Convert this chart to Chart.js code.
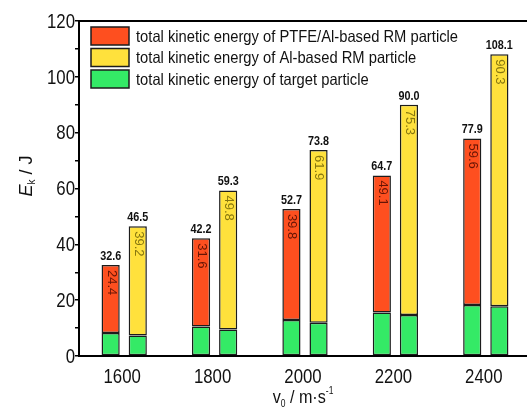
<!DOCTYPE html>
<html>
<head>
<meta charset="utf-8">
<script src="https://cdn.jsdelivr.net/npm/chart.js@4/dist/chart.umd.min.js"></script>
<style>
  html, body { margin: 0; padding: 0; background: #fff; overflow: hidden; }
  #wrap { width: 527px; height: 409px; overflow: hidden; }
</style>
</head>
<body>
<div id="wrap"><canvas id="energyChart" width="540" height="409"></canvas></div>
<script>
const categories = ['1600', '1800', '2000', '2200', '2400'];
const ptfeTarget = [8.2, 10.6, 12.9, 15.6, 18.3];
const ptfeParticle = [24.4, 31.6, 39.8, 49.1, 59.6];
const ptfeTotal = ['32.6', '42.2', '52.7', '64.7', '77.9'];
const alTarget = [7.3, 9.5, 11.9, 14.7, 17.8];
const alParticle = [39.2, 49.8, 61.9, 75.3, 90.3];
const alTotal = ['46.5', '59.3', '73.8', '90.0', '108.1'];
const legendLabels = [
    'total kinetic energy of PTFE/Al-based RM particle',
    'total kinetic energy of Al-based RM particle',
    'total kinetic energy of target particle'
];

const RED = '#fe4f1f';
const YELLOW = '#ffe13c';
const GREEN = '#34ea66';
const EDGE = '#1c1c1c';
const SANS = "'Liberation Sans', Arial, sans-serif";

const barStyle = {
    borderColor: EDGE,
    borderWidth: 1.5,
    borderSkipped: false,
    barPercentage: 0.67,
    categoryPercentage: 0.6
};

// the source figure uses a narrow face, so squeeze text sideways
function narrowText(ctx, text, x, y, font, align, squeeze, baseline) {
    ctx.save();
    ctx.translate(x, y);
    ctx.scale(squeeze, 1);
    ctx.font = font;
    ctx.textAlign = align;
    ctx.textBaseline = baseline || 'middle';
    ctx.fillText(text, 0, 0);
    ctx.restore();
}

const decorations = {
    id: 'decorations',
    afterDatasetsDraw(chart) {
        const ctx = chart.ctx;
        const area = chart.chartArea;
        ctx.save();

        // top frame line
        ctx.strokeStyle = '#000';
        ctx.lineWidth = 2;
        ctx.beginPath();
        ctx.moveTo(area.left - 1, area.top);
        ctx.lineTo(chart.width, area.top);
        ctx.stroke();

        ctx.fillStyle = '#111';
        // tick labels
        const ys = chart.scales.y;
        ys.ticks.forEach((t, i) => {
            if (t.value % 20 !== 0) return;
            narrowText(ctx, String(t.value), 75, ys.getPixelForTick(i) + 1, '21px ' + SANS, 'right', 0.8);
        });
        const xs = chart.scales.x;
        categories.forEach((c, i) => {
            narrowText(ctx, c, xs.getPixelForTick(i) - 2, 377, '21px ' + SANS, 'center', 0.8);
        });

        // segment values and totals
        const labelSets = [
            { index: 1, values: ptfeParticle, totals: ptfeTotal, color: '#661505' },
            { index: 3, values: alParticle, totals: alTotal, color: '#86760f' }
        ];
        labelSets.forEach(set => {
            const meta = chart.getDatasetMeta(set.index);
            meta.data.forEach((bar, i) => {
                ctx.save();
                ctx.translate(bar.x + 0.5, bar.y + 5);
                ctx.rotate(Math.PI / 2);
                ctx.font = '13px ' + SANS;
                ctx.fillStyle = set.color;
                ctx.textAlign = 'left';
                ctx.textBaseline = 'middle';
                ctx.fillText(set.values[i].toFixed(1), 0, 0);
                ctx.restore();

                ctx.fillStyle = '#111';
                narrowText(ctx, set.totals[i], bar.x, bar.y - 2, 'bold 13.5px ' + SANS, 'center', 0.8, 'bottom');
            });
        });

        // legend
        const colors = [RED, YELLOW, GREEN];
        ctx.font = '16.5px ' + SANS;
        const squeeze = 322 / ctx.measureText(legendLabels[0]).width;
        legendLabels.forEach((text, i) => {
            const y = 27 + i * 21.5;
            ctx.fillStyle = colors[i];
            ctx.fillRect(91, y, 38, 18);
            ctx.strokeStyle = EDGE;
            ctx.lineWidth = 1.5;
            ctx.strokeRect(91, y, 38, 18);
            ctx.fillStyle = '#111';
            narrowText(ctx, text, 136, y + 10, '16.5px ' + SANS, 'left', squeeze);
        });

        // y title: E_k / J
        ctx.save();
        ctx.translate(32, 176);
        ctx.rotate(-Math.PI / 2);
        ctx.fillStyle = '#111';
        ctx.textBaseline = 'alphabetic';
        ctx.textAlign = 'left';
        ctx.font = 'italic 18px ' + SANS;
        const eW = ctx.measureText('E').width;
        ctx.font = '10px ' + SANS;
        const kW = ctx.measureText('k').width;
        ctx.font = '18px ' + SANS;
        const restW = ctx.measureText(' / J').width;
        let x = -(eW + kW + restW) / 2;
        ctx.font = 'italic 18px ' + SANS;
        ctx.fillText('E', x, 0);
        x += eW;
        ctx.font = '10px ' + SANS;
        ctx.fillText('k', x, 3);
        x += kW;
        ctx.font = '18px ' + SANS;
        ctx.fillText(' / J', x, 0);
        ctx.restore();

        // x title: v0 / m·s-1
        const parts = [
            { t: 'v', f: '19px ', dy: 0 },
            { t: '0', f: '10px ', dy: 4 },
            { t: ' / m\u00b7s', f: '19px ', dy: 0 },
            { t: '-1', f: '10px ', dy: -9 }
        ];
        const sq = 0.85;
        let total = 0;
        parts.forEach(p => { ctx.font = p.f + SANS; p.w = ctx.measureText(p.t).width * sq; total += p.w; });
        let px = 303 - total / 2;
        parts.forEach(p => {
            narrowText(ctx, p.t, px, 403 + p.dy, p.f + SANS, 'left', sq, 'alphabetic');
            px += p.w;
        });

        ctx.restore();
    }
};

new Chart(document.getElementById('energyChart'), {
    type: 'bar',
    data: {
        labels: categories,
        datasets: [
            Object.assign({ data: ptfeTarget, backgroundColor: GREEN, stack: 'ptfe' }, barStyle),
            Object.assign({ data: ptfeParticle, backgroundColor: RED, stack: 'ptfe' }, barStyle),
            Object.assign({ data: alTarget, backgroundColor: GREEN, stack: 'al' }, barStyle),
            Object.assign({ data: alParticle, backgroundColor: YELLOW, stack: 'al' }, barStyle)
        ]
    },
    options: {
        responsive: false,
        animation: false,
        layout: { padding: { top: 21, right: 9, left: 0, bottom: 0 } },
        plugins: {
            legend: { display: false },
            tooltip: { enabled: false }
        },
        scales: {
            x: {
                stacked: true,
                grid: { display: false },
                border: { display: true, color: '#000', width: 2 },
                ticks: { color: 'rgba(0,0,0,0)', padding: 9, font: { family: SANS, size: 20 } },
                afterFit(scale) { scale.height = 53; }
            },
            y: {
                stacked: true,
                min: 0,
                max: 120,
                border: { display: true, color: '#000', width: 2 },
                grid: {
                    drawOnChartArea: false,
                    drawTicks: true,
                    tickLength: 4,
                    color: '#000',
                    lineWidth: 1.5
                },
                ticks: {
                    stepSize: 10,
                    padding: 0,
                    color: 'rgba(0,0,0,0)',
                    font: { family: SANS, size: 20 }
                },
                afterFit(scale) { scale.width = 79; }
            }
        }
    },
    plugins: [decorations]
});
</script>
</body>
</html>
